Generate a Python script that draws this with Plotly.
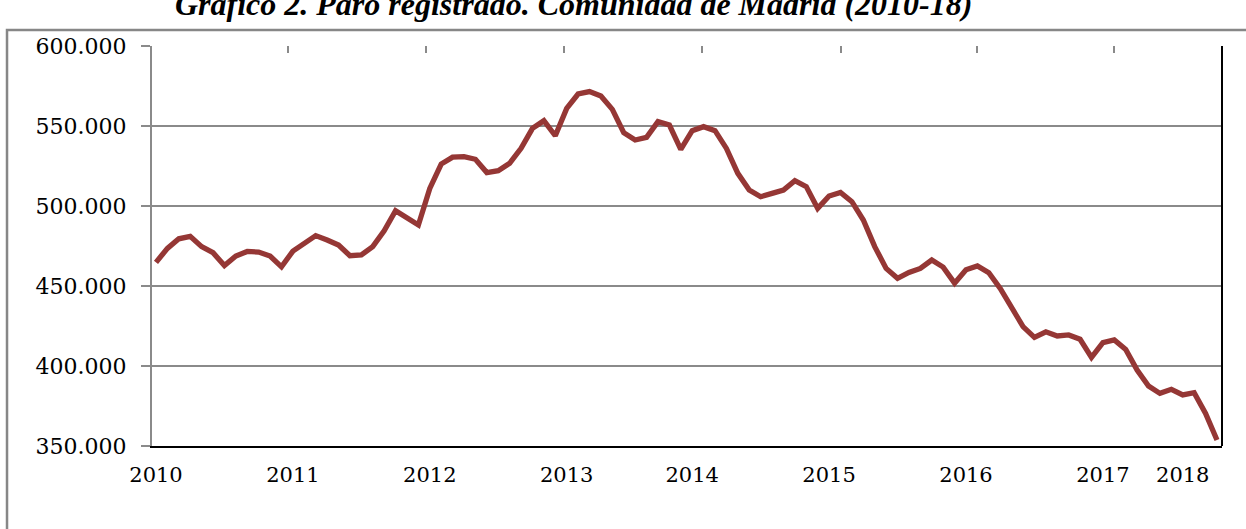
import plotly.graph_objects as go

# Paro registrado, Comunidad de Madrid (miles de personas), serie mensual
paro_miles = [
    464.8, 473.5, 479.5, 481.0, 474.6, 470.8, 462.8, 468.75, 471.6, 471.2,
    468.75, 462.0, 471.8, 477.0, 481.5, 478.75, 475.6, 468.9, 469.4, 474.6,
    484.5, 497.0, 492.9, 488.1, 511.0, 526.2, 530.5, 530.9, 529.2, 520.9,
    522.1, 526.7, 536.0, 548.5, 553.3, 543.9, 561.0, 570.0, 571.5, 568.75,
    560.4, 545.8, 541.25, 542.9, 552.7, 550.6, 535.4, 547.1, 549.6, 547.1,
    536.0, 520.4, 510.0, 505.8, 507.9, 510.0, 515.8, 512.1, 498.5, 506.25,
    508.5, 502.7, 491.25, 474.6, 461.0, 454.8, 458.5, 461.0, 466.25, 461.8,
    451.8, 460.2, 462.5, 458.3, 448.5, 436.0, 424.6, 417.9, 421.4, 418.75,
    419.4, 416.7, 405.4, 414.6, 416.25, 410.4, 397.5, 387.5, 382.9, 385.4,
    381.9, 383.3, 370.4, 353.75,
]
year_labels = ["2010", "2011", "2012", "2013", "2014", "2015", "2016", "2017", "2018"]
year_label_idx = [0, 12, 24, 36, 47, 59, 71, 83, 90]
top_tick_idx = [11.6, 23.7, 35.8, 47.9, 60.0, 72.0, 84.0]

title_text = "Gráfico 2. Paro registrado. Comunidad de Madrid (2010-18)"

x_idx = list(range(len(paro_miles)))
y_vals = [v * 1000 for v in paro_miles]

GRID = "#8a8a8a"
XFONT = dict(family="DejaVu Serif", size=21, color="#000000")
YFONT = dict(family="DejaVu Serif", size=22, color="#000000")

fig = go.Figure()
fig.add_trace(go.Scatter(
    x=x_idx, y=y_vals, mode="lines", xaxis="x2", yaxis="y",
    line=dict(width=0), opacity=0, hoverinfo="skip", showlegend=False,
))
fig.add_trace(go.Scatter(
    x=x_idx, y=y_vals, mode="lines", xaxis="x", yaxis="y",
    line=dict(color="#953735", width=5.3), showlegend=False,
))

xr = [-0.35, 93.44]
fig.update_layout(
    width=1246, height=529,
    margin=dict(l=152, r=24, t=46, b=83),
    paper_bgcolor="white", plot_bgcolor="white",
    separators=",.",
    showlegend=False,
    xaxis=dict(
        range=xr, tickvals=year_label_idx, ticktext=year_labels,
        ticks="", showgrid=False, zeroline=False,
        showline=True, linecolor="#000000", linewidth=2,
        tickfont=XFONT, ticklabelstandoff=9,
    ),
    xaxis2=dict(
        range=xr, overlaying="x", side="top", anchor="y",
        tickvals=top_tick_idx, ticks="inside", ticklen=7, tickwidth=1.5,
        tickcolor=GRID, showticklabels=False, showgrid=False,
        zeroline=False, showline=False,
    ),
    yaxis=dict(
        range=[350000, 600000], tick0=350000, dtick=50000,
        tickformat=",.0f", showgrid=True, gridcolor=GRID, gridwidth=1.5,
        zeroline=False, showline=True, linecolor=GRID, linewidth=2,
        ticks="outside", ticklen=9, tickwidth=1.5, tickcolor=GRID,
        tickfont=YFONT, ticklabelstandoff=10,
    ),
    shapes=[
        dict(type="line", xref="paper", yref="paper", x0=1, x1=1, y0=0, y1=1,
             line=dict(color="#000000", width=2)),
        dict(type="rect", xref="paper", yref="paper",
             x0=-0.1355, x1=1.3, y0=-0.6, y1=1.04,
             line=dict(color="#878787", width=2.5)),
    ],
    annotations=[
        dict(text="<b><i>" + title_text + "</i></b>", xref="paper", yref="paper",
             x=0.394, y=1.105, xanchor="center", yanchor="middle", showarrow=False,
             font=dict(family="Liberation Serif", size=32, color="#000000")),
    ],
)

fig.write_html("out.html", config={"displayModeBar": False},
               post_script="document.body.style.margin='0';")
